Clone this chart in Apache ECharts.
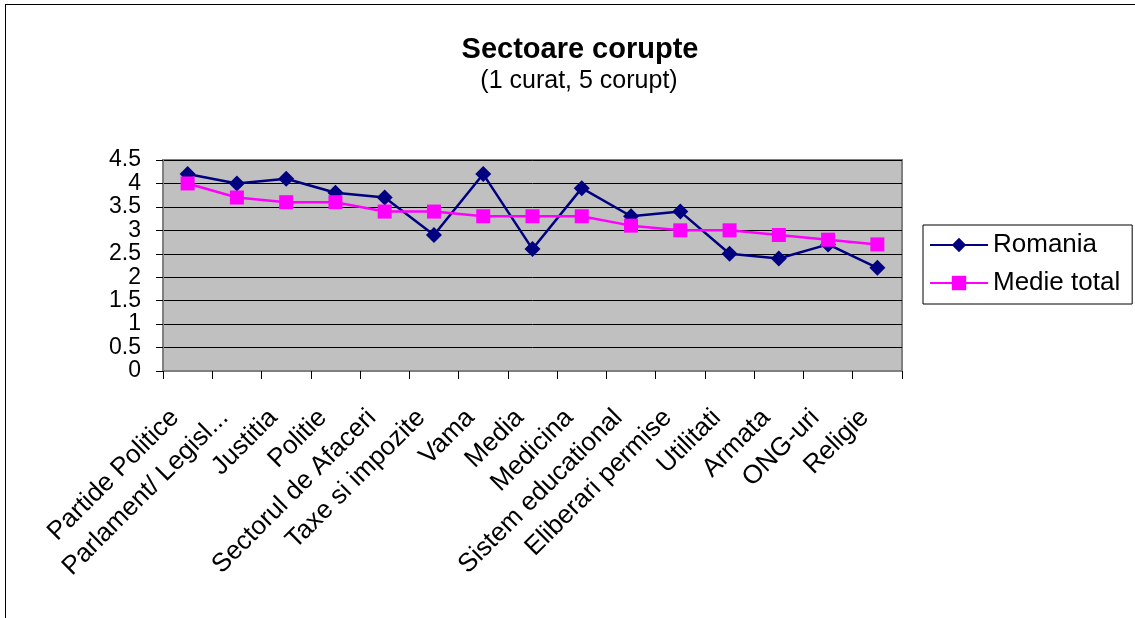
<!DOCTYPE html>
<html><head><meta charset="utf-8">
<script src="https://cdn.jsdelivr.net/npm/echarts@6/dist/echarts.min.js"></script>
<style>html,body{margin:0;padding:0;background:#fff}#c{width:1135px;height:618px}
#frame{position:absolute;left:5px;top:4px;width:1140px;height:700px;border:1px solid #000;box-sizing:border-box;pointer-events:none}</style>
</head><body><div id="c"></div><div id="frame"></div>
<script>
const categories = ['Partide Politice','Parlament/ Legisl...','Justitia','Politie','Sectorul de Afaceri','Taxe si impozite','Vama','Media','Medicina','Sistem educational','Eliberari permise','Utilitati','Armata','ONG-uri','Religie'];
const romania = [4.2,4.0,4.1,3.8,3.7,2.9,4.2,2.6,3.9,3.3,3.4,2.5,2.4,2.7,2.2];
const medie = [4.0,3.7,3.6,3.6,3.4,3.4,3.3,3.3,3.3,3.1,3.0,3.0,2.9,2.8,2.7];
const yTicks = [0,0.5,1,1.5,2,2.5,3,3.5,4,4.5];
const chart = echarts.init(document.getElementById('c'));
const font = 'Liberation Sans, Arial, sans-serif';
chart.setOption({
  animation:false,
  backgroundColor:'#fff',
  title:[
    {text:'Sectoare corupte',left:575,top:30,textAlign:'center',textStyle:{fontFamily:font,fontSize:29,fontWeight:'bold',color:'#000'}},
    {text:'(1 curat, 5 corupt)',left:574,top:64,textAlign:'center',textStyle:{fontFamily:font,fontSize:25,fontWeight:'normal',color:'#000'}}
  ],
  legend:{left:923,top:225,orient:'vertical',width:190,itemGap:12,padding:[7,12,8,6],borderColor:'#000',borderWidth:1,itemWidth:58,itemHeight:18,
    textStyle:{fontFamily:font,fontSize:26,color:'#000'},
    data:['Romania','Medie total']},
  grid:{left:163,right:233,top:160,bottom:247,show:true,backgroundColor:'#C0C0C0',borderColor:'#808080',borderWidth:2},
  xAxis:{type:'category',data:categories,boundaryGap:true,
    axisLine:{lineStyle:{color:'#808080',width:2}},
    axisTick:{show:true,length:8,lineStyle:{color:'#000'}},
    axisLabel:{interval:0,rotate:45,fontFamily:font,fontSize:26,color:'#000',margin:30,padding:[0,18,0,0]}},
  yAxis:{type:'value',min:0,max:4.5,interval:0.5,
    axisLine:{show:true,lineStyle:{color:'#808080',width:2}},
    axisTick:{show:true,length:7,lineStyle:{color:'#000'}},
    splitLine:{lineStyle:{color:'#000',width:1}},
    axisLabel:{fontFamily:font,fontSize:23,color:'#000',margin:22,showMinLabel:true,showMaxLabel:true,hideOverlap:false,
      textMargin:[-8,0,-8,0],minMargin:-8,
      formatter:v=>{const t=yTicks.find(x=>Math.abs(x-v)<1e-9);return String(t===undefined?v:t);}}},
  series:[
    {name:'Romania',type:'line',data:romania,symbol:'diamond',symbolSize:16,itemStyle:{color:'#000080'},lineStyle:{color:'#000080',width:2.5}},
    {name:'Medie total',type:'line',data:medie,symbol:'rect',symbolSize:14,itemStyle:{color:'#FF00FF'},lineStyle:{color:'#FF00FF',width:2.5}}
  ]
});
</script></body></html>
